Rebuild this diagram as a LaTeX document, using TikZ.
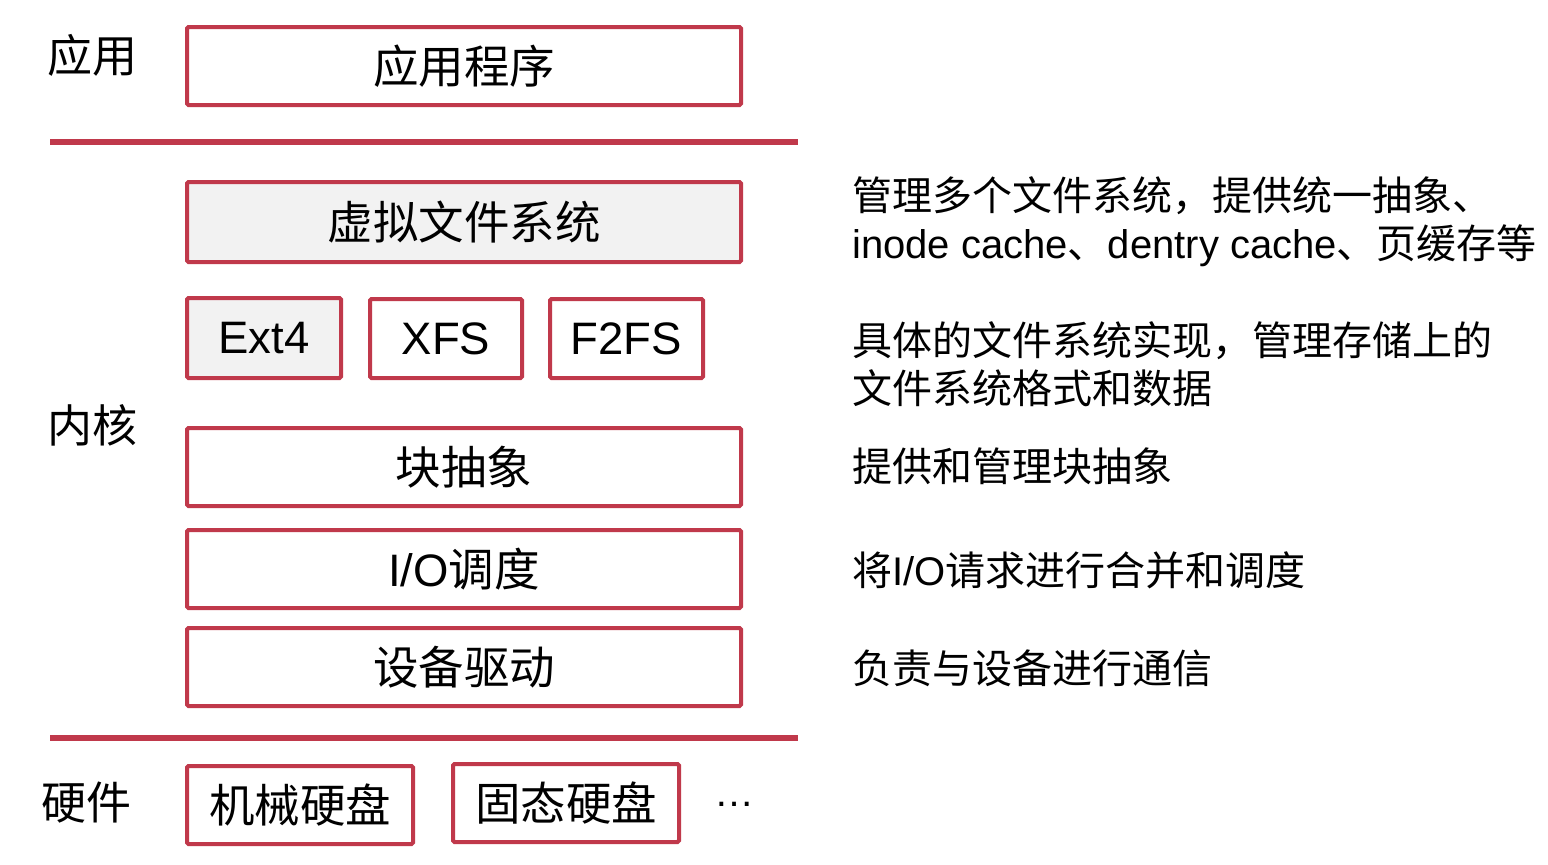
\documentclass[tikz,border=0pt]{standalone}
\usepackage{fontspec}
\setmainfont{Liberation Sans}
\newfontfamily\cjk{Noto Sans CJK SC}
\definecolor{frame}{RGB}{192,57,75}
\definecolor{shade}{RGB}{242,242,242}
\begin{document}
\begin{tikzpicture}[x=1pt,y=-1pt,
  layerbox/.style={draw=frame,line width=4pt,rounded corners=1.5pt,fill=white,inner sep=0pt,
     minimum height=78pt,font=\fontsize{45.5}{50}\selectfont},
  graybox/.style={layerbox,fill=shade},
  sidelabel/.style={inner sep=0pt,font=\fontsize{45}{50}\selectfont\cjk},
  note/.style={anchor=west,inner sep=0pt,align=left,font=\fontsize{40}{48}\selectfont},
  divider/.style={draw=frame,line width=5.5pt}]
\useasboundingbox (0,0) rectangle (1548,865);
% layer labels
\node[sidelabel] (lapp) at (92,55) {应用};
\node[sidelabel] (lker) at (92,425) {内核};
\node[sidelabel] (lhw) at (86,803) {硬件};
% dividers
\coordinate (d1a) at (50,142); \coordinate (d1b) at (798,142);
\coordinate (d2a) at (50,738); \coordinate (d2b) at (798,738);
\draw[divider] (d1a) -- (d1b);
\draw[divider] (d2a) -- (d2b);
% boxes
\node[layerbox,minimum width=554pt] (app) at (464,66) {\cjk 应用程序};
\node[graybox,minimum width=554pt,minimum height=80pt] (vfs) at (464,222) {\cjk 虚拟文件系统};
\node[graybox,minimum width=154pt,minimum height=80pt] (ext4) at (264,338) {Ext4};
\node[layerbox,minimum width=152pt,minimum height=79pt] (xfs) at (446,338.5) {XFS};
\node[layerbox,minimum width=153pt,minimum height=79pt] (f2fs) at (626.5,338.5) {F2FS};
\node[layerbox,minimum width=554pt] (blk) at (464,467) {\cjk 块抽象};
\node[layerbox,minimum width=554pt] (io) at (464,569) {I/O{\cjk 调度}};
\node[layerbox,minimum width=554pt] (dev) at (464,667) {\cjk 设备驱动};
\node[layerbox,minimum width=226pt] (hdd) at (300,805) {\cjk 机械硬盘};
\node[layerbox,minimum width=226pt] (ssd) at (566,803) {\cjk 固态硬盘};
\node[inner sep=0pt,font=\fontsize{40}{44}\selectfont] (more) at (734,804) {…};
% notes
\node[note] (n1) at (852,222) {{\cjk 管理多个文件系统，提供统一抽象、}\\inode cache{\cjk 、}dentry cache{\cjk 、页缓存等}};
\node[note] (n2) at (852,364) {\cjk 具体的文件系统实现，管理存储上的\\\cjk 文件系统格式和数据};
\node[note] (n3) at (852,466) {\cjk 提供和管理块抽象};
\node[note] (n4) at (852,570) {{\cjk 将}I/O{\cjk 请求进行合并和调度}};
\node[note] (n5) at (852,668) {\cjk 负责与设备进行通信};
\end{tikzpicture}
\end{document}
